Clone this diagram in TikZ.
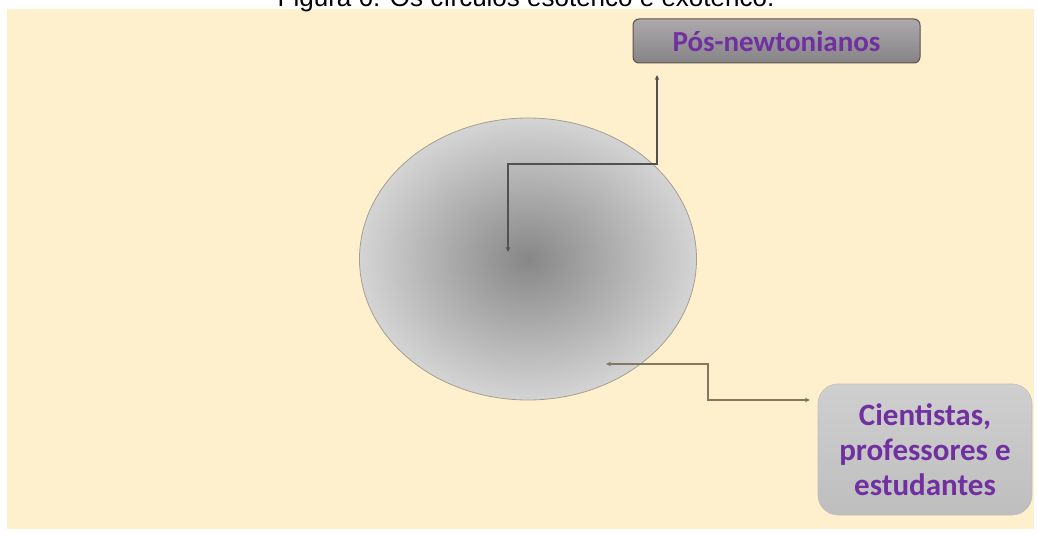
\documentclass[tikz,border=0pt]{standalone}
\usepackage{fontspec}
\setmainfont{Liberation Sans}
\newfontfamily\carl{Carlito}
\usetikzlibrary{arrows.meta}
\definecolor{cream}{HTML}{FFF0CD}
\definecolor{purp}{HTML}{7030A0}
\definecolor{darkline}{HTML}{555050}
\definecolor{brownline}{HTML}{857660}
\definecolor{ellin}{HTML}{878787}
\definecolor{ellout}{HTML}{D4D4D4}
\definecolor{ellborder}{HTML}{A39F8E}
\definecolor{posborder}{HTML}{5A5348}
\definecolor{postop}{HTML}{ACA8AC}
\definecolor{posbot}{HTML}{868486}
\definecolor{cietop}{HTML}{CFCFCF}
\definecolor{ciebot}{HTML}{BEBEBE}
\tikzset{
  conn/.style={line width=1.1pt, {Stealth[length=5pt,width=4.5pt]}-{Stealth[length=5pt,width=4.5pt]}},
  boxtext/.style={text=purp, align=center},
}
\begin{document}
\begin{tikzpicture}[x=1pt,y=-1pt]
\useasboundingbox (0,0) rectangle (1038,537);
\fill[white] (0,0) rectangle (1038,537);
\fill[cream] (7,9) rectangle (1034,529);
% title (cut at top, as in the reference)
\node[anchor=base, font=\fontsize{26}{30}\selectfont, inner sep=0pt] (title) at (526,7) {Figura 6: Os círculos esotérico e exotérico.};
% ellipse
\path[inner color=ellin, outer color=ellout] (528,259) ellipse [x radius=168.5, y radius=141];
\draw[ellborder, line width=0.8pt] (528,259) ellipse [x radius=168.5, y radius=141];
% boxes
\node[draw=posborder, minimum width=287pt, minimum height=44pt, rounded corners=6pt,
      top color=postop, bottom color=posbot, line width=1pt, boxtext,
      font=\carl\bfseries\fontsize{29}{34}\selectfont] (pos) at (776.5,41) {Pós-newtonianos};
\node[draw=ciebot, minimum width=214pt, minimum height=131pt, rounded corners=20pt,
      top color=cietop, bottom color=ciebot, line width=0.6pt, boxtext,
      font=\carl\bfseries\fontsize{31}{35}\selectfont] (cie) at (925,449.5) {Cientistas,\\professores e\\estudantes};
% connector ends
\coordinate (a1) at (657,75);
\coordinate (b1) at (657,164);
\coordinate (c1) at (508,252);
\coordinate (a2) at (606,364);
\coordinate (b2) at (708,382);
\coordinate (c2) at (810,400);
\draw[conn, darkline] (a1) -- (b1) -| (c1);
\draw[conn, brownline] (a2) -| (b2) |- (c2);
\end{tikzpicture}
\end{document}
